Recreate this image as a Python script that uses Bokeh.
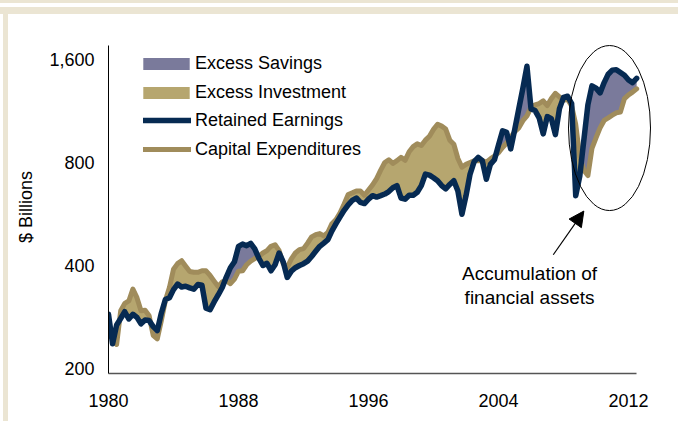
import numpy as np
from bokeh.plotting import figure
from bokeh.models import (Range1d, FixedTicker, NumeralTickFormatter, Legend, LegendItem,
                          Arrow, NormalHead, Label, InlineStyleSheet)
from bokeh.embed import file_html
from bokeh.resources import INLINE

# ---------------- data (quarterly, $ billions) ----------------
quarters = list(np.arange(1980.0, 2012.51, 0.25))

retained_earnings = [
    288, 236, 268, 280,     # 1980
    293, 279, 288, 282,     # 1981
    270, 277, 276, 265,     # 1982
    258, 290, 318, 322,     # 1983
    340, 353, 346, 348,     # 1984
    344, 341, 352, 350,     # 1985
    300, 297, 313, 328,     # 1986
    345, 370, 394, 410,     # 1987
    455, 462, 457, 464,     # 1988
    447, 420, 400, 406,     # 1989
    386, 402, 435, 410,     # 1990
    369, 385, 394, 400,     # 1991
    405, 412, 425, 440,     # 1992
    455, 465, 476, 505,     # 1993
    530, 555, 580, 602,     # 1994
    620, 630, 612, 607,     # 1995
    625, 640, 634, 640,     # 1996
    647, 658, 675, 685,     # 1997
    630, 625, 642, 642,     # 1998
    655, 685, 740, 735,     # 1999
    722, 708, 685, 670,     # 2000
    690, 708, 660, 565,     # 2001
    640, 740, 805, 828,     # 2002
    810, 715, 790, 815,     # 2003
    900, 990, 980, 877,     # 2004
    1000, 1150, 1320, 1530, # 2005
    1148, 1135, 1080, 970,  # 2006
    1090, 1075, 965, 1150,  # 2007
    1240, 1250, 1190, 640,  # 2008
    730, 930, 1180, 1340,   # 2009
    1320, 1278, 1370, 1450, # 2010
    1490, 1495, 1467, 1440, # 2011
    1395, 1370, 1410,       # 2012
]

capital_expenditures = [
    268, 250, 235, 295,     # 1980
    310, 315, 341, 322,     # 1981
    295, 296, 285, 250,     # 1982
    244, 276, 316, 345,     # 1983
    390, 405, 413, 398,     # 1984
    384, 382, 382, 386,     # 1985
    386, 374, 360, 347,     # 1986
    358, 361, 354, 365,     # 1987
    385, 386, 402, 412,     # 1988
    419, 425, 435, 442,     # 1989
    455, 460, 442, 405,     # 1990
    395, 418, 435, 445,     # 1991
    448, 465, 485, 492,     # 1992
    496, 488, 500, 530,     # 1993
    545, 570, 605, 645,     # 1994
    652, 660, 660, 642,     # 1995
    665, 688, 718, 760,     # 1996
    800, 815, 795, 810,     # 1997
    828, 812, 860, 890,     # 1998
    907, 897, 930, 955,     # 1999
    1000, 1035, 1022, 1002, # 2000
    930, 905, 822, 775,     # 2001
    790, 800, 810, 810,     # 2002
    810, 802, 820, 835,     # 2003
    855, 885, 912, 949,     # 2004
    985, 1010, 1060, 1095,  # 2005
    1160, 1180, 1190, 1212, # 2006
    1174, 1230, 1275, 1245, # 2007
    1215, 1225, 1170, 1035, # 2008
    830, 760, 733, 880,     # 2009
    945, 1010, 1062, 1080,  # 2010
    1100, 1118, 1123, 1230, # 2011
    1262, 1285, 1314,       # 2012
]

x_ticks = [1980, 1988, 1996, 2004, 2012]
y_ticks = [200, 400, 800, 1600]

legend_labels = ["Excess Savings", "Excess Investment", "Retained Earnings", "Capital Expenditures"]
annotation_lines = ["Accumulation of", "financial assets"]

# ---------------- styling ----------------
SAVINGS = "#7a7a9b"
INVEST = "#b6a66f"
NAVY = "#062a52"
CAPEX = "#a08c5b"
BEIGE = "#ebe5d3"
FONT = "Liberation Sans"

# ---------------- fill regions (split at crossings, in log space) ----------------
t = np.array(quarters, dtype=float)
re = np.array(retained_earnings, dtype=float)
ce = np.array(capital_expenditures, dtype=float)
lr, lc = np.log(re), np.log(ce)
xs, r_ext, c_ext = [t[0]], [re[0]], [ce[0]]
for i in range(1, len(t)):
    d0 = lr[i - 1] - lc[i - 1]
    d1 = lr[i] - lc[i]
    if d0 * d1 < 0:
        f = d0 / (d0 - d1)
        xc = t[i - 1] + f * (t[i] - t[i - 1])
        yc = float(np.exp(lr[i - 1] + f * (lr[i] - lr[i - 1])))
        xs.append(xc); r_ext.append(yc); c_ext.append(yc)
    xs.append(t[i]); r_ext.append(re[i]); c_ext.append(ce[i])
xs = np.array(xs); r_ext = np.array(r_ext); c_ext = np.array(c_ext)
upper = np.maximum(r_ext, c_ext)

# ---------------- figure ----------------
p = figure(width=678, height=421, x_range=Range1d(1980, 2013.66), y_range=Range1d(193.3, 1819),
           y_axis_type="log", output_backend="svg", toolbar_location=None,
           min_border_left=108, min_border_right=23, min_border_top=40, min_border_bottom=48)
p.background_fill_color = "white"
p.border_fill_color = None
p.outline_line_color = None
p.xgrid.visible = False
p.ygrid.visible = False

# decorative beige frame drawn as the figure's own background
frame_css = (":host { background: "
             f"linear-gradient(to bottom, {BEIGE} 0px, {BEIGE} 3px, #ffffff 3px, #ffffff 7px, "
             f"{BEIGE} 7px, {BEIGE} 14px, transparent 14px), "
             f"linear-gradient(to right, #ffffff 0px, #ffffff 3px, {BEIGE} 3px, {BEIGE} 8px, "
             "#ffffff 8px); }")
p.stylesheets = [InlineStyleSheet(css=frame_css)]

r_sav = p.varea(x=xs, y1=c_ext, y2=upper, fill_color=SAVINGS, fill_alpha=1)
r_inv = p.varea(x=xs, y1=r_ext, y2=upper, fill_color=INVEST, fill_alpha=1)
r_ce = p.line(t, ce, line_color=CAPEX, line_width=5, line_join="round", line_cap="round")
r_re = p.line(t, re, line_color=NAVY, line_width=5.5, line_join="round", line_cap="round")

# axes
xa = p.xaxis[0]
xa.ticker = FixedTicker(ticks=x_ticks)
xa.bounds = (1980, 2012.5)
xa.major_tick_line_color = None
xa.minor_tick_line_color = None
xa.major_tick_out = 0
xa.major_tick_in = 0
xa.axis_line_color = "#555555"
xa.axis_line_width = 1.5
xa.major_label_text_font = FONT
xa.major_label_text_font_size = "18px"
xa.major_label_text_color = "black"
xa.major_label_standoff = 20

ya = p.yaxis[0]
ya.ticker = FixedTicker(ticks=y_ticks)
ya.formatter = NumeralTickFormatter(format="0,0")
ya.bounds = (193.3, 1759)
ya.major_tick_line_color = None
ya.minor_tick_line_color = None
ya.major_tick_out = 0
ya.major_tick_in = 0
ya.axis_line_color = "black"
ya.axis_line_width = 1
ya.major_label_text_font = FONT
ya.major_label_text_font_size = "18px"
ya.major_label_text_color = "black"
ya.major_label_standoff = 14
ya.axis_label = "$ Billions"
ya.axis_label_text_font = FONT
ya.axis_label_text_font_size = "18px"
ya.axis_label_text_font_style = "normal"
ya.axis_label_text_color = "black"
ya.axis_label_standoff = 10

# legends
common = dict(padding=0, margin=0, border_line_color=None, background_fill_alpha=0,
              label_text_font=FONT, label_text_font_size="18px", label_text_color="black",
              label_height=24, spacing=5)
leg1 = Legend(items=[LegendItem(label=legend_labels[0], renderers=[r_sav]),
                     LegendItem(label=legend_labels[1], renderers=[r_inv])],
              location=(29, 269), glyph_width=58, glyph_height=15, label_standoff=0, **common)
leg2 = Legend(items=[LegendItem(label=legend_labels[2], renderers=[r_re]),
                     LegendItem(label=legend_labels[3], renderers=[r_ce])],
              location=(35, 212), glyph_width=48, glyph_height=24, label_standoff=4, **common)
p.add_layout(leg1)
p.add_layout(leg2)

# annotation: ellipse, arrow, text
p.ellipse(x=[2010.83], y=[1009], width=82, height=165, width_units="screen",
          height_units="screen", fill_color=None, line_color="black", line_width=1)
p.add_layout(Arrow(end=NormalHead(size=15, fill_color="black", line_color="black"),
                   x_start=2007.37, y_start=430, x_end=2009.25, y_end=577,
                   line_color="black", line_width=1.2))
p.add_layout(Label(x=2005.91, y=379, text=annotation_lines[0], text_align="center",
                   text_baseline="middle", text_font=FONT, text_font_size="19px",
                   text_color="black"))
p.add_layout(Label(x=2005.91, y=323, text=annotation_lines[1], text_align="center",
                   text_baseline="middle", text_font=FONT, text_font_size="19px",
                   text_color="black"))

open("out.html", "w").write(file_html(p, INLINE))
